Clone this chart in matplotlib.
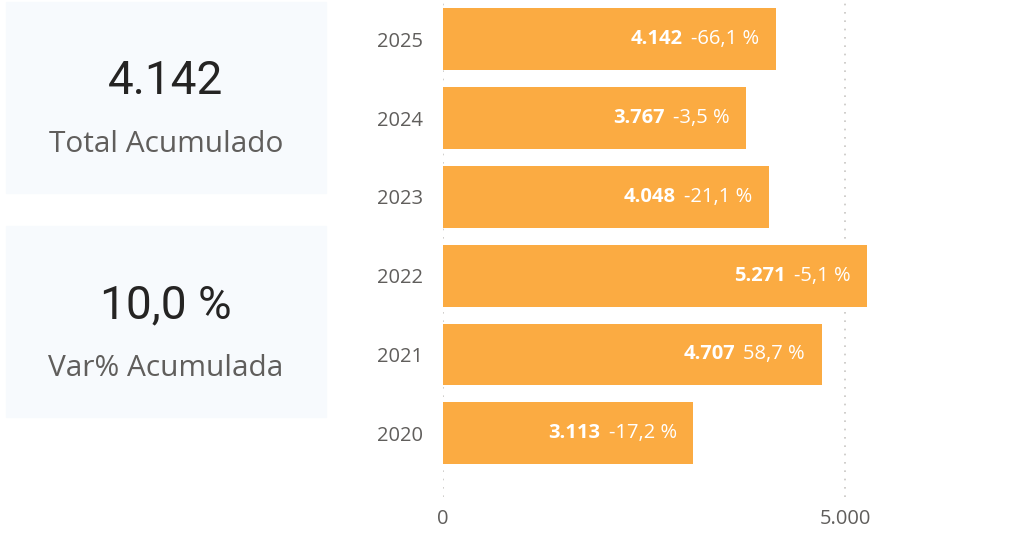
import matplotlib
matplotlib.use('Agg')
import matplotlib.pyplot as plt
from matplotlib.patches import Rectangle
from matplotlib.offsetbox import TextArea, HPacker, AnnotationBbox

# data
years = ['2020', '2021', '2022', '2023', '2024', '2025']
totals = [3113, 4707, 5271, 4048, 3767, 4142]
var_pct = ['-17,2 %', '58,7 %', '-5,1 %', '-21,1 %', '-3,5 %', '-66,1 %']
total_label = '4.142'
var_label = '10,0 %'

W, H = 1018, 533
bar_color = '#FBAB42'
grey = '#605E5C'
dark = '#252423'
card_color = '#F7FAFD'
font = 'Open Sans'

fig = plt.figure(figsize=(W / 100, H / 100), dpi=100)

# KPI cards
for (y0, y1), big, small in [((2, 193), total_label, 'Total Acumulado'),
                             ((226, 417), var_label, 'Var% Acumulada')]:
    fig.patches.append(Rectangle((6 / W, 1 - y1 / H), 320 / W, (y1 - y0) / H,
                                 transform=fig.transFigure, color=card_color, zorder=0))
    fig.text(166 / W, 1 - (y0 + 79) / H, big, ha='center', va='center',
             fontsize=33, color=dark, family='Roboto')
    fig.text(166 / W, 1 - (y0 + 143) / H, small, ha='center', va='center',
             fontsize=21.5, color=grey, family=font)

# bar chart
ax = fig.add_axes([443 / W, (H - 497) / H, (1010 - 443) / W, 497 / H])
pos = list(range(len(years)))
ax.barh(pos, totals, height=0.785, color=bar_color, zorder=2)
ax.set_xlim(0, 7050)
ax.set_ylim(-0.81, 5.5)
ax.set_yticks(pos)
ax.set_yticklabels(years)
ax.set_xticks([0, 5000])
ax.set_xticklabels(['0', '5.000'])
for s in ax.spines.values():
    s.set_visible(False)
ax.tick_params(length=0, colors=grey, labelsize=14.5)
ax.tick_params(axis='y', pad=14.5)
ax.tick_params(axis='x', pad=9)
for lbl in ax.get_xticklabels() + ax.get_yticklabels():
    lbl.set_family(font)
ax.grid(axis='x', color='#C8C6C4', linestyle=(0, (1, 4)), linewidth=1.2, zorder=1)
ax.set_axisbelow(True)

for i, (v, p) in enumerate(zip(totals, var_pct)):
    box = HPacker(children=[
        TextArea(f'{v:,}'.replace(',', '.'),
                 textprops=dict(color='white', fontweight='bold', fontsize=14.5, family=font)),
        TextArea(p, textprops=dict(color='white', fontsize=14.5, family=font))],
        sep=6, pad=0, align='center')
    ab = AnnotationBbox(box, (v, i), xybox=(-12, 0), xycoords='data',
                        boxcoords='offset points', box_alignment=(1, 0.5),
                        frameon=False, pad=0, zorder=3)
    ax.add_artist(ab)

fig.savefig('out.png', dpi=100)
